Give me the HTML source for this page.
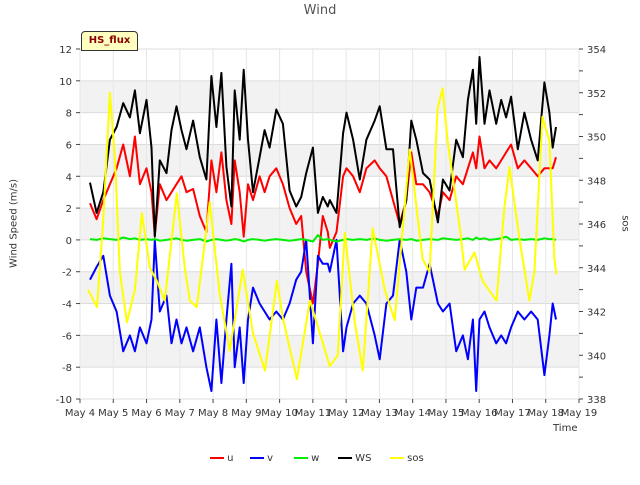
<!DOCTYPE html>
<html><head><meta charset="utf-8"><style>
body{margin:0;background:#fff;font-family:"Liberation Sans","DejaVu Sans",sans-serif;}
svg text{font-family:"DejaVu Sans","Liberation Sans",sans-serif;}
</style></head><body>
<svg id="c" width="640" height="480" viewBox="0 0 640 480" xmlns="http://www.w3.org/2000/svg"></svg>
<script>
const xTickLabels=["May 4","May 5","May 6","May 7","May 8","May 9","May 10","May 11","May 12","May 13","May 14","May 15","May 16","May 17","May 18","May 19"];
const xTickDays=[4,5,6,7,8,9,10,11,12,13,14,15,16,17,18,19];
const yTicks=[-10,-8,-6,-4,-2,0,2,4,6,8,10,12];
const y2Ticks=[338,340,342,344,346,348,350,352,354];
const t1=[4.30,4.50,4.70,4.90,5.10,5.30,5.50,5.65,5.80,6.00,6.15,6.25,6.40,6.60,6.75,6.90,7.05,7.20,7.40,7.60,7.80,7.95,8.10,8.25,8.40,8.55,8.65,8.80,8.92,9.05,9.20,9.40,9.55,9.70,9.90,10.10,10.30,10.50,10.65,10.80,11.00,11.15,11.30,11.45,
11.51,11.71,11.91,12.01,12.21,12.41,12.61,12.86,13.01,13.21,13.41,13.61,13.81,13.96,14.11,14.31,14.51,14.76,14.91,15.11,15.31,15.51,15.66,15.81,15.91,16.01,16.16,16.31,16.51,16.66,16.81,16.96,17.16,17.36,17.56,17.76,17.96,18.11,18.21,18.31];
const wsVals=[3.6,1.7,3,6.3,7.1,8.6,7.7,9.4,6.7,8.8,5.8,0.2,5,4.2,6.9,8.4,6.9,5.7,7.5,5.2,3.8,10.3,7.1,10.5,4.6,2.1,9.4,6.3,10.7,6.3,3,5.2,6.9,5.8,8.2,7.3,3.1,2.1,2.7,4.2,5.8,1.7,2.7,2.1,
2.5,1.7,6.7,8,6.3,3.8,6.3,7.5,8.4,5.7,5.7,0.8,2.5,7.5,6.3,4.2,3.8,1.1,3.8,3.1,6.3,5.2,8.8,10.7,7.3,11.5,7.3,9.4,7.3,8.8,7.7,9,5.7,8,6.3,5,9.9,8,5.8,7.1];
const uVals=[2.3,1.3,2.5,3.5,4.5,6,4,6.5,3.5,4.5,3,0.3,3.5,2.5,3,3.5,4,3,3.2,1.5,0.5,5,3,5.5,2.5,1,5,3,0.2,3.5,2.5,4,3,4,4.5,3.5,2,1,1.5,-2,-4,-1.5,1.5,0.5,
-0.5,0.5,4,4.5,4,3,4.5,5,4.5,4,2.5,1,2.5,5.5,3.5,3.5,3,1.5,3,2.5,4,3.5,4.5,5.5,4.5,6.5,4.5,5,4.5,5,5.5,6,4.5,5,4.5,4,4.5,4.5,4.5,5.2];
const vVals=[-2.5,-1.7,-1,-3.5,-4.5,-7,-6,-7,-5.5,-6.5,-5,0,-4.5,-3.5,-6.5,-5,-6.5,-5.5,-7,-5.5,-8,-9.5,-5,-9,-5,-1.5,-8,-5.5,-9,-5,-3,-4,-4.5,-5,-4.5,-5,-4,-2.5,-2,0,-6.5,-1,-1.5,-1.5,
-2,0,-7,-5.5,-4,-3.5,-4,-6,-7.5,-4,-3.5,0,-2,-5,-3,-3,-1.5,-4,-4.5,-4,-7,-6,-7.5,-5,-9.5,-5,-4.5,-5.5,-6.5,-6,-6.5,-5.5,-4.5,-5,-4.5,-5,-8.5,-6,-4,-5];
const wVals=[0.05,0,0.1,0.05,0,0.15,0.05,0.1,0,0.05,0,0.05,-0.05,0,0.05,0.1,0,-0.05,0,0.05,-0.1,0,0.05,0,-0.05,0,0.05,0,-0.1,0,0.05,0,-0.05,0,0.05,0,-0.05,0,0.05,0,-0.1,0.3,0,0.05,
0,-0.1,0,0.05,0,0.05,0,0.1,0,-0.05,0,0.05,0,0.05,-0.05,0,0.05,0,0.1,0.05,0,0.05,0.1,0,0.15,0.05,0.1,0,0.05,0.1,0.2,0,0.05,0,0.05,0,0.1,0.05,0.05,0];
const sosT=[4.24,4.51,4.69,4.90,5.05,5.20,5.41,5.65,5.86,6.10,6.31,6.55,6.91,7.15,7.30,7.51,7.90,8.20,8.50,8.89,9.20,9.56,9.92,10.10,10.52,10.91,11.21,11.51,11.75,11.96,12.26,12.50,12.80,13.16,13.46,13.91,14.30,14.51,14.75,14.90,15.05,15.41,15.56,15.86,16.10,16.52,16.76,16.91,17.21,17.51,17.66,17.90,18.11,18.26,18.32];
const sosVals=[343,342.2,346,352,349,343.8,341.5,343,346.5,344,343.4,342.5,347.4,344,342.5,342.2,347,342.8,340.2,343.9,341,339.3,343.4,341.7,338.9,342.5,341,339.5,340,345.6,341.5,339.3,345.8,343,341.6,349.4,344.4,343.8,351.3,352.2,349.8,345.9,343.9,344.7,343.4,342.5,346.8,348.6,345.3,342.5,343.8,350.9,349.8,344.4,343.7];

const L=80,R=579,T=49,B=399;
const X=d=>L+(d-4)*(R-L)/15;
const Y=v=>T+(12-v)*(B-T)/22;
const Y2=v=>T+(354-v)*(B-T)/16;
const NS="http://www.w3.org/2000/svg";
const svg=document.getElementById('c');
function mk(tag,attrs,parent){const e=document.createElementNS(NS,tag);for(const k in attrs)e.setAttribute(k,attrs[k]);(parent||svg).appendChild(e);return e;}

// plot background bands
const bg=mk('g',{});


mk('rect',{x:L,y:T,width:R-L,height:B-T,fill:'#fff'},bg);
[[8,10],[4,6],[0,2],[-4,-2],[-8,-6]].forEach(b=>{mk('rect',{x:L,y:Y(b[1]),width:R-L,height:Y(b[0])-Y(b[1]),fill:'#f2f2f2'},bg);});
yTicks.forEach(v=>mk('line',{x1:L,x2:R,y1:Y(v),y2:Y(v),stroke:'#dcdcdc','stroke-width':1},bg));
xTickDays.forEach(d=>mk('line',{x1:X(d),x2:X(d),y1:T,y2:B,stroke:'#e6e6e6','stroke-width':1},bg));

// axes ticks/labels
const ax=mk('g',{'font-size':'10',fill:'#333'});


yTicks.forEach(v=>{mk('line',{x1:L-4,x2:L,y1:Y(v),y2:Y(v),stroke:'#444'},ax);const t=mk('text',{x:L-8,y:Y(v)+4,'text-anchor':'end'},ax);t.textContent=v;});
for(let v=338;v<=354;v++){mk('line',{x1:R,x2:R+4,y1:Y2(v),y2:Y2(v),stroke:'#444'},ax);}
y2Ticks.forEach(v=>{const t=mk('text',{x:R+8,y:Y2(v)+4},ax);t.textContent=v;});
xTickDays.forEach((d,i)=>{mk('line',{x1:X(d),x2:X(d),y1:B,y2:B+4,stroke:'#444'},ax);const t=mk('text',{x:X(d),y:B+17,'text-anchor':'middle'},ax);t.textContent=xTickLabels[i];});

// series
function line(ts,vs,yf,color,name){const p=mk('polyline',{points:ts.map((t,i)=>X(t).toFixed(1)+','+yf(vs[i]).toFixed(1)).join(' '),fill:'none',stroke:color,'stroke-width':2,'stroke-linejoin':'round'});

}
line(t1,uVals,Y,'#ff0000','series-u');
line(t1,vVals,Y,'#0000ff','series-v');
line(t1,wVals,Y,'#00ee00','series-w');
line(t1,wsVals,Y,'#000000','series-ws');
line(sosT,sosVals,Y2,'#ffff00','series-sos');
</script>
<div style="position:absolute;left:0;top:0;width:640px;height:480px;pointer-events:none">
<div style="position:absolute;left:0;width:640px;top:3px;text-align:center;font-size:13px;color:#555;font-family:'DejaVu Sans',sans-serif">Wind</div>
<div style="position:absolute;left:-36px;top:218px;width:100px;text-align:center;transform:rotate(-90deg);font-size:10px;color:#333;font-family:'DejaVu Sans',sans-serif">Wind Speed (m/s)</div>
<div style="position:absolute;left:605px;top:218px;width:40px;text-align:center;transform:rotate(90deg);font-size:10px;color:#333;font-family:'DejaVu Sans',sans-serif">sos</div>
<div style="position:absolute;left:553px;top:423px;font-size:10px;color:#333;font-family:'DejaVu Sans',sans-serif">Time</div>
<div style="position:absolute;left:81px;top:31px;width:55px;height:18px;background:#ffffc0;border:1px solid #333;border-radius:4px 4px 0 0;font-size:10px;font-weight:bold;color:#8b0000;text-align:center;line-height:18px;font-family:'DejaVu Sans',sans-serif">HS_flux</div>
<div style="position:absolute;top:453px;left:210px;font-size:10px;color:#333;font-family:'DejaVu Sans',sans-serif;white-space:nowrap">
<span style="position:absolute;left:0"><span style="display:inline-block;width:14px;height:2px;background:#f00;vertical-align:middle"></span> u</span>
<span style="position:absolute;left:40px"><span style="display:inline-block;width:14px;height:2px;background:#00f;vertical-align:middle"></span> v</span>
<span style="position:absolute;left:84px"><span style="display:inline-block;width:14px;height:2px;background:#0e0;vertical-align:middle"></span> w</span>
<span style="position:absolute;left:128px"><span style="display:inline-block;width:14px;height:2px;background:#000;vertical-align:middle"></span> WS</span>
<span style="position:absolute;left:180px"><span style="display:inline-block;width:14px;height:2px;background:#ff0;vertical-align:middle"></span> sos</span>
</div>
</div>
</body></html>
